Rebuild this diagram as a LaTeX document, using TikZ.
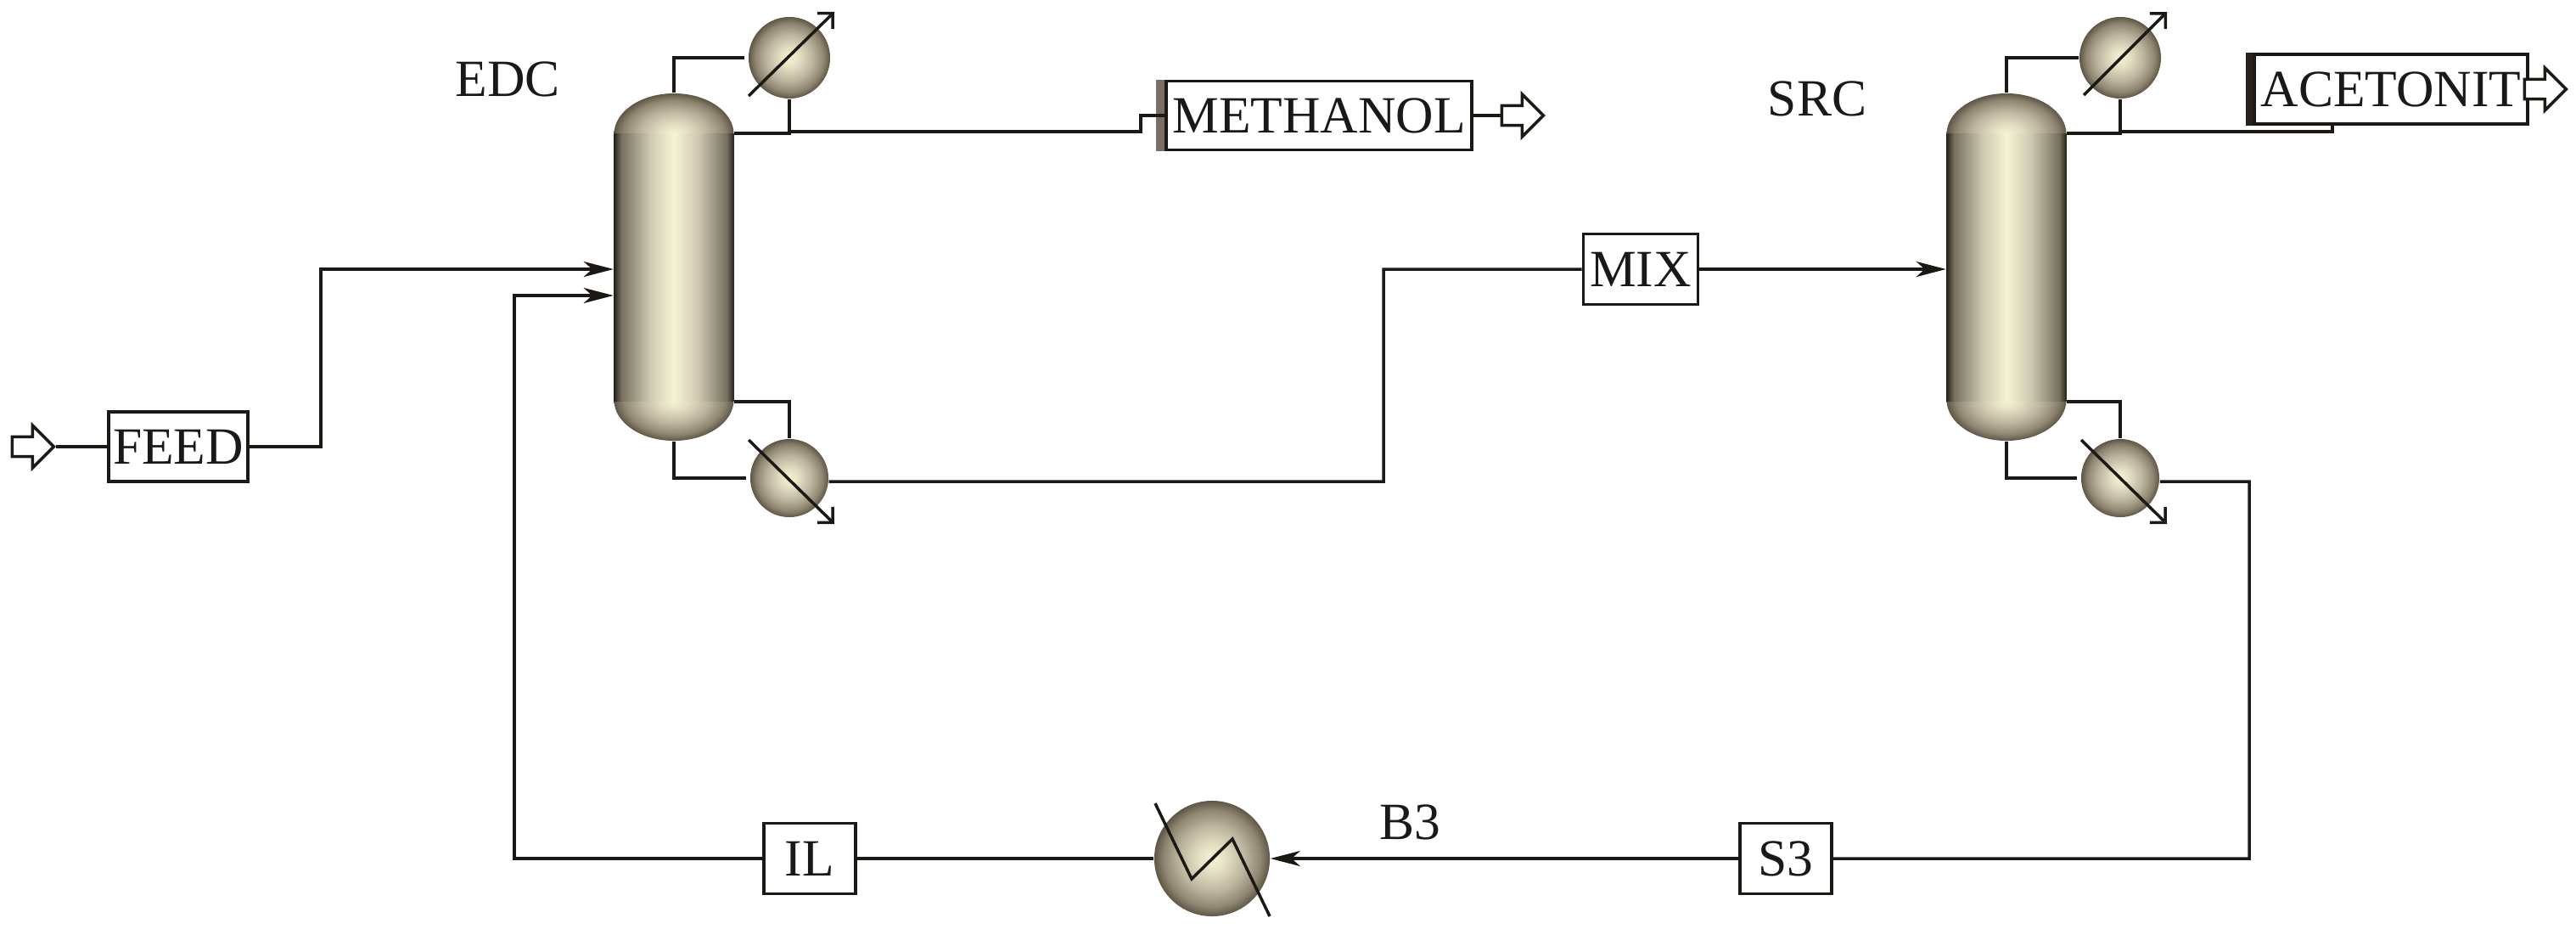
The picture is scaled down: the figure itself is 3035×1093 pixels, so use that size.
\documentclass[tikz,border=0pt]{standalone}
\usepackage{fontspec}
\setmainfont{Liberation Serif}
\usetikzlibrary{shapes.geometric, shapes.arrows, arrows.meta}

\definecolor{ballinner}{HTML}{E4DFC3}
\definecolor{ballmid}{HTML}{BDB6A0}
\definecolor{ballouter}{HTML}{8E8671}
\definecolor{balledge}{HTML}{5F5646}
\definecolor{cream}{HTML}{F6F3D2}
\definecolor{coldark}{HTML}{262219}
\definecolor{colmid}{HTML}{75705F}
\definecolor{collight}{HTML}{CFC9B2}
\definecolor{tagbrown}{HTML}{776E66}
\definecolor{linecol}{HTML}{1C1814}

\pgfdeclareradialshading{ballshade}{\pgfpoint{0bp}{0bp}}{color(0bp)=(cream); color(6bp)=(ballinner); color(14bp)=(ballmid); color(21bp)=(ballouter); color(25bp)=(balledge); color(50bp)=(balledge)}
\pgfdeclarehorizontalshading{colshade}{100bp}{color(0bp)=(coldark); color(25bp)=(coldark); color(28bp)=(colmid); color(40bp)=(collight); color(50bp)=(cream); color(60bp)=(collight); color(72bp)=(colmid); color(75bp)=(coldark); color(100bp)=(coldark)}

\begin{document}
\begin{tikzpicture}[
      x=0.01cm, y=-0.01cm,
      stream/.style={draw=linecol, line width=0.035cm},
      arr/.style={stream, -{Stealth[length=0.35cm, width=0.18cm, inset=0.1cm]}},
      diag/.style={stream, -{Straight Barb[length=0.13cm, width=0.26cm]}},
      tag/.style={draw=linecol, line width=0.035cm, fill=white, inner sep=0pt,
                  font=\fontsize{17.5}{20}\selectfont, text=black!90},
      title/.style={inner sep=0pt, font=\fontsize{17.5}{20}\selectfont, text=black!90},
      cond/.style={circle, shading=ballshade, inner sep=0pt, minimum size=0.96cm},
      reb/.style={cond, minimum size=0.92cm},
      heater/.style={cond, minimum size=1.36cm},
      dome/.style={ellipse, shading=ballshade, inner sep=0pt, minimum width=1.41cm, minimum height=0.96cm},
      body/.style={rectangle, shading=colshade, inner sep=0pt, minimum width=1.41cm, minimum height=3.14cm},
      outlet/.style={single arrow, draw=linecol, line width=0.035cm, fill=white, inner sep=0pt,
                     minimum width=0.5cm, minimum height=0.49cm,
                     single arrow head extend=0.02cm, single arrow tip angle=90}
    ]
    \useasboundingbox (0,0) rectangle (3035,1093);

    % columns
    \node[dome] (edctop) at (794, 158) {};
    \node[dome] (edcbot) at (794, 471) {};
    \node[body] (edc)    at (794, 315) {};
    \node[dome] (srctop) at (2364, 158) {};
    \node[dome] (srcbot) at (2364, 471) {};
    \node[body] (src)    at (2364, 315) {};

    \node[cond] (edccond) at (930, 68)   {};
    \node[reb]  (edcreb)  at (930, 563)  {};
    \node[cond] (srccond) at (2498, 68)  {};
    \node[reb]  (srcreb)  at (2498, 563) {};
    \node[heater] (b3)    at (1428, 1011) {};

    \node[tag, minimum width=1.64cm, minimum height=0.82cm] (feed) at (210, 526)  {FEED};
    \node[tag, minimum width=3.60cm, minimum height=0.81cm] (methanol) at (1554, 136) {METHANOL};
    \node[tag, minimum width=3.22cm, minimum height=0.82cm] (aceto) at (2817, 105) {ACETONIT};
    \node[tag, minimum width=1.35cm, minimum height=0.83cm] (mix)  at (1933, 317)  {MIX};
    \node[tag, minimum width=1.08cm, minimum height=0.83cm] (s3)   at (2104, 1011) {S3};
    \node[tag, minimum width=1.08cm, minimum height=0.83cm] (il)   at (954, 1011)  {IL};

    \fill[tagbrown] (methanol.north west) rectangle ([xshift=-0.1cm]methanol.south west);
    \fill[coldark] (aceto.north west) rectangle ([xshift=-0.08cm]aceto.south west);

    \node[outlet] (feedin) at (33, 526)   {};
    \node[outlet] (meout)  at (1788, 136) {};
    \node[outlet] (acout)  at (2993, 105) {};

    \node[title] (edcname) at (598, 93)   {EDC};
    \node[title] (srcname) at (2141, 116) {SRC};
    \node[title] (b3name)  at (1661, 968) {B3};

    % EDC streams
    \draw[stream] (feedin.east) -- (feed.west);
    \draw[arr] (feed.east) -| (378, 317) -- (edc.west |- 0, 317);
    \draw[stream, shorten >=0.04cm] (edctop.north) |- (edccond.west);
    \draw[stream] (edc.north east) -| (edccond.south);
    \draw[stream] (930, 155) -- (1344, 155) |- (methanol.west);
    \draw[stream] (methanol.east) -- (meout.west);
    \draw[stream] (edc.south east) -| (edcreb.north);
    \draw[stream, shorten >=0.04cm] (edcbot.south) |- (edcreb.west);
    \draw[stream] ([yshift=-0.04cm]edcreb.east) -- (1630, 567) |- (mix.west);
    \draw[arr] (mix.east) -- (src.west |- mix);

    % SRC streams
    \draw[stream] (srctop.north) |- (srccond.west);
    \draw[stream] (src.north east) -| (srccond.south);
    \draw[stream] (2498, 155) -| (aceto.south -| 2748, 0);
    \draw[stream] (src.south east) -| (srcreb.north);
    \draw[stream, shorten >=0.04cm] (srcbot.south) |- (srcreb.west);
    \draw[stream] ([yshift=-0.04cm]srcreb.east) -- (2650, 567) |- (s3.east);

    % recycle
    \draw[arr] (s3.west) -- (b3.east);
    \draw[stream] (b3.west) -- (il.east);
    \draw[arr] (il.west) -| (606, 348) -- (edc.west |- 0, 348);

    % utility lines through the exchangers
    \draw[diag] (edccond.center) ++(-48, 45) -- ++(101, -99);
    \draw[diag] (edcreb.center) ++(-48, -45) -- ++(101, 99);
    \draw[diag] (srccond.center) ++(-43, 44) -- ++(98, -98);
    \draw[diag] (srcreb.center) ++(-46, -45) -- ++(101, 99);
    \draw[stream] (b3.center) ++(-67, -65) -- ++(43, 89) -- ++(48, -47) -- ++(44, 91);
  \end{tikzpicture}
\end{document}
